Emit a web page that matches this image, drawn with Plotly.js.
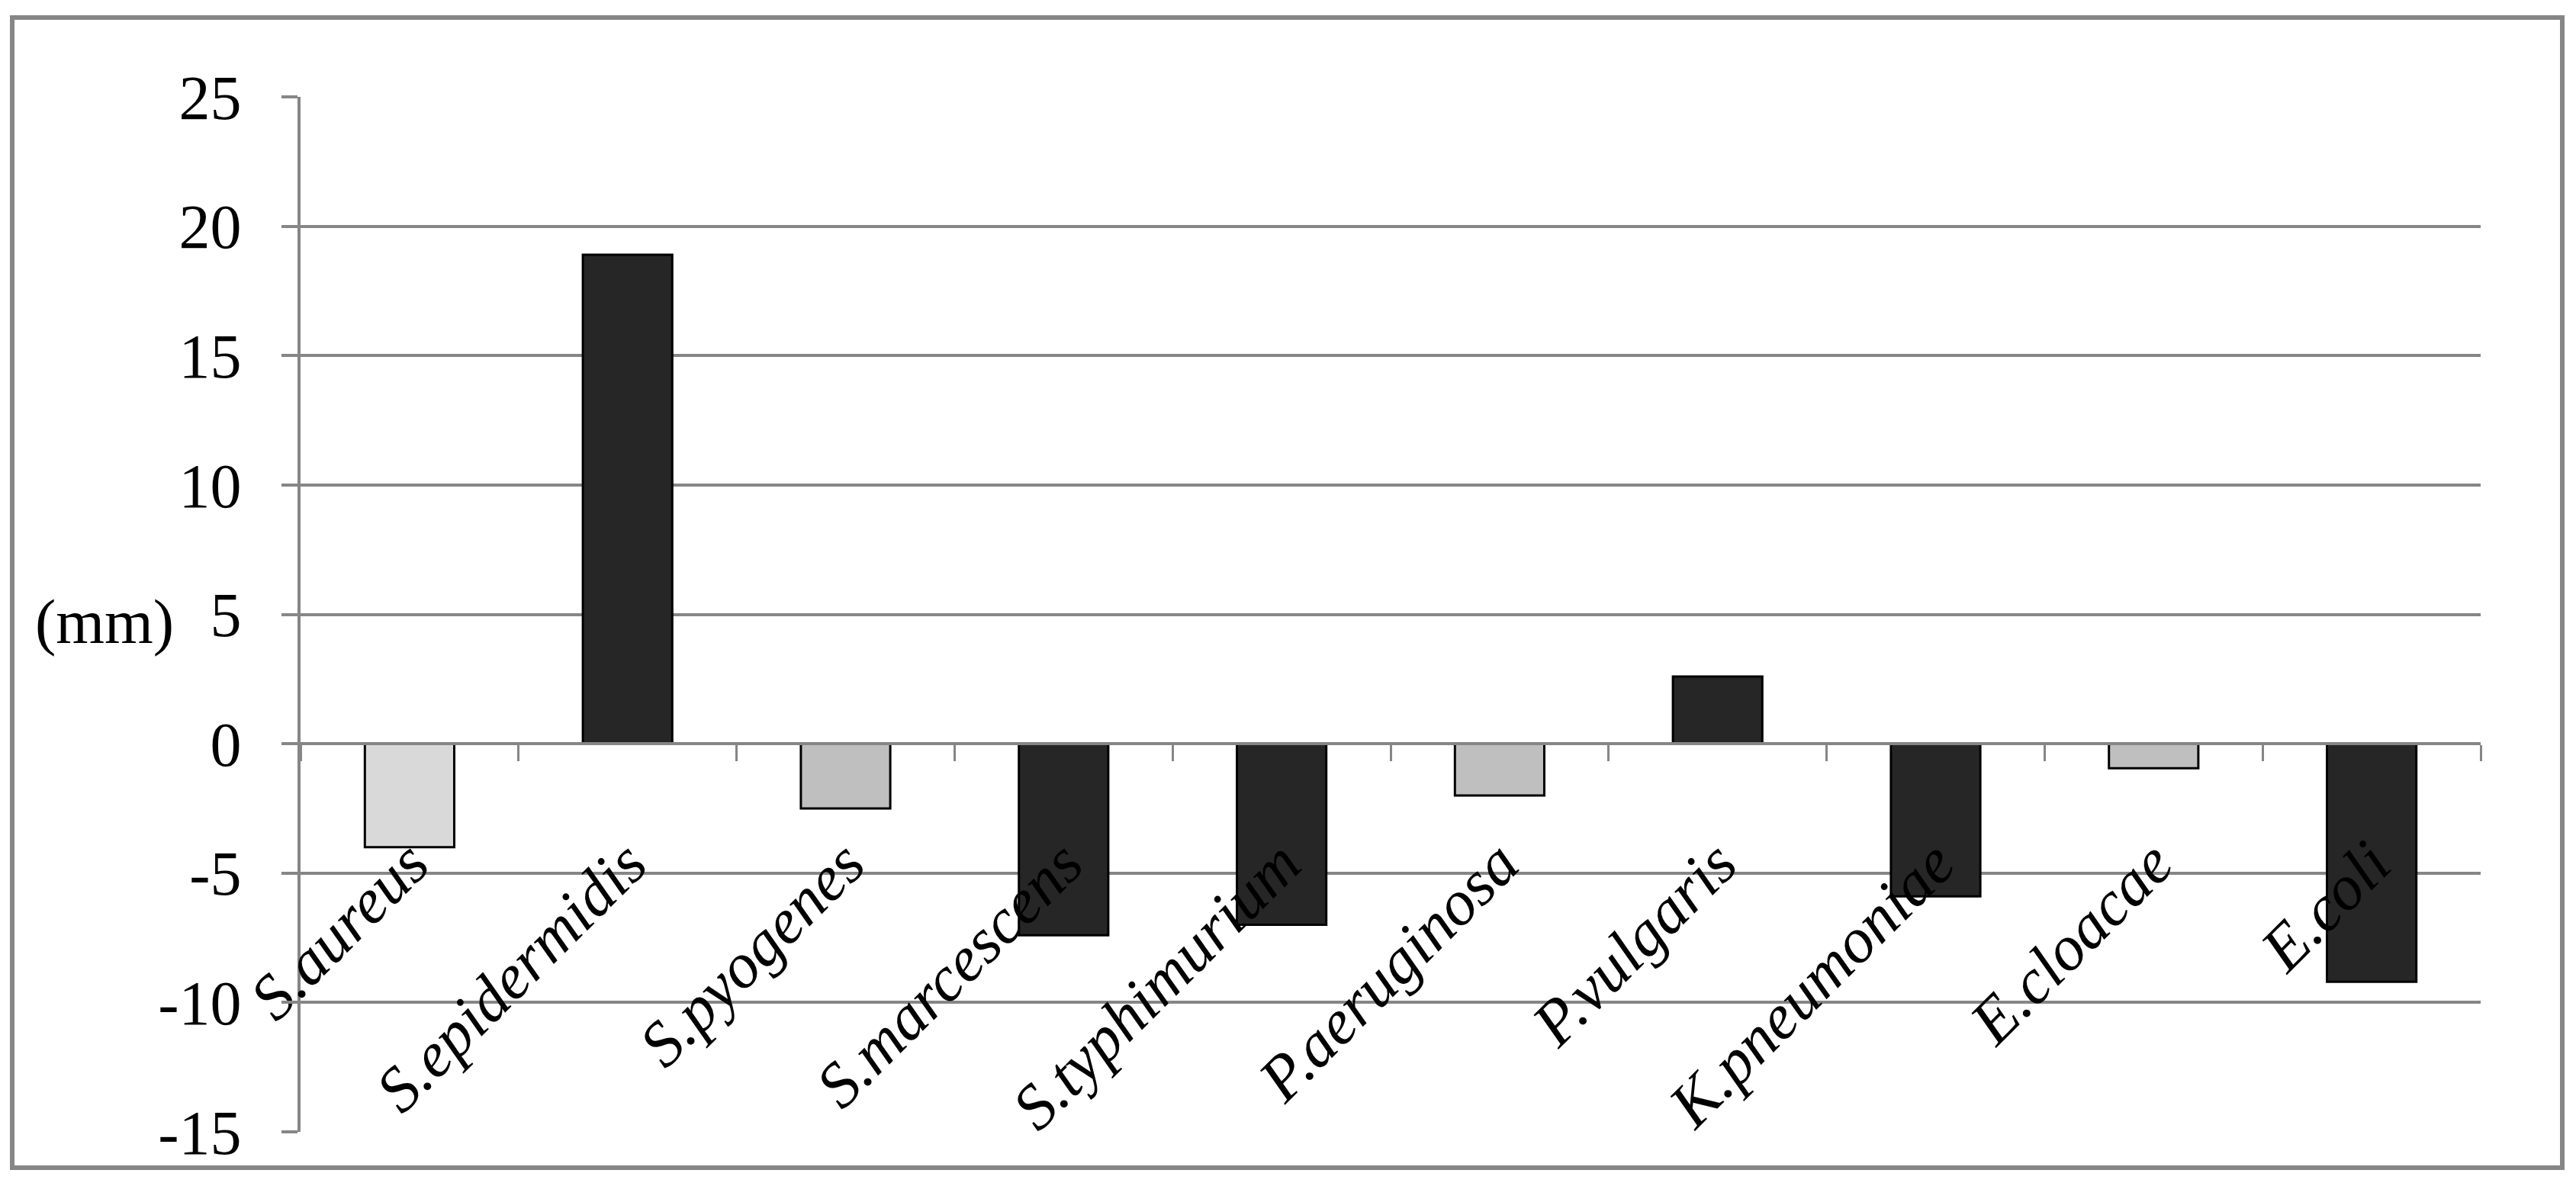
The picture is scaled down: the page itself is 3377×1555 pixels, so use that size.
<!DOCTYPE html>
<html>
<head>
<meta charset="utf-8">
<script src="https://cdn.plot.ly/plotly-3.0.1.min.js"></script>
<style>html,body{margin:0;padding:0;background:#fff;}#chart{width:3377px;height:1555px;}</style>
</head>
<body>
<div id="chart"></div>
<script>
const categories = ["S.aureus","S.epidermidis","S.pyogenes","S.marcescens","S.typhimurium","P.aeruginosa","P.vulgaris","K.pneumoniae","E.cloacae","E.coli"];
const values = [-4, 18.9, -2.5, -7.4, -7.0, -2.0, 2.6, -5.9, -0.95, -9.2];
const barColors = ["#d9d9d9","#262626","#bfbfbf","#262626","#262626","#bfbfbf","#262626","#262626","#bfbfbf","#262626"];
const yTickVals = [-15, -10, -5, 0, 5, 10, 15, 20, 25];
const yTickText = ["-15", "-10", "-5", "0", "5", "10", "15", "20", "25"];
const yUnit = "(mm)";

const font = "'Liberation Serif', 'Times New Roman', Times, serif";
const grid = "#868686";

const trace = {
  type: "bar",
  x: categories,
  y: values,
  width: 0.41,
  marker: {color: barColors, line: {color: "#000000", width: 3}},
  hoverinfo: "x+y"
};

const L = 394, R = 3252, T = 127, B = 1484, W = 3377, H = 1555;
const px = v => (v - L) / (R - L);
const py = v => (B - v) / (B - T);

const layout = {
  width: W, height: H,
  margin: {l: L, r: W - R, t: T, b: H - B, pad: 0},
  paper_bgcolor: "#ffffff",
  plot_bgcolor: "#ffffff",
  showlegend: false,
  bargap: 0.59,
  xaxis: {
    type: "category",
    range: [-0.5, 9.5],
    anchor: "free",
    position: 15 / 40,
    showline: true, linecolor: grid, linewidth: 4,
    showgrid: false, zeroline: false,
    ticks: "outside", tickson: "boundaries", ticklen: 21, tickwidth: 3, tickcolor: grid,
    tickangle: -45,
    tickfont: {family: font, size: 84, color: "#000", style: "italic"},
    ticklabelstandoff: 72,
    fixedrange: true
  },
  yaxis: {
    range: [-15, 25],
    tickvals: yTickVals, ticktext: yTickText,
    showline: true, linecolor: grid, linewidth: 4,
    showgrid: true, gridcolor: grid, gridwidth: 4,
    zeroline: false,
    ticks: "outside", ticklen: 21, tickwidth: 4, tickcolor: grid,
    tickfont: {family: font, size: 82, color: "#000"},
    ticklabelstandoff: 36,
    fixedrange: true
  },
  annotations: [{
    text: yUnit, xref: "paper", yref: "y", x: px(137), y: 4.7,
    xanchor: "center", yanchor: "middle", showarrow: false,
    font: {family: font, size: 82, color: "#000"}
  }],
  shapes: [{
    type: "rect", xref: "paper", yref: "paper",
    x0: px(16), x1: px(3359), y0: py(1531), y1: py(23),
    line: {color: grid, width: 6}, fillcolor: "rgba(0,0,0,0)", layer: "below"
  }]
};

Plotly.newPlot("chart", [trace], layout, {displayModeBar: false, staticPlot: true});
</script>
</body>
</html>
